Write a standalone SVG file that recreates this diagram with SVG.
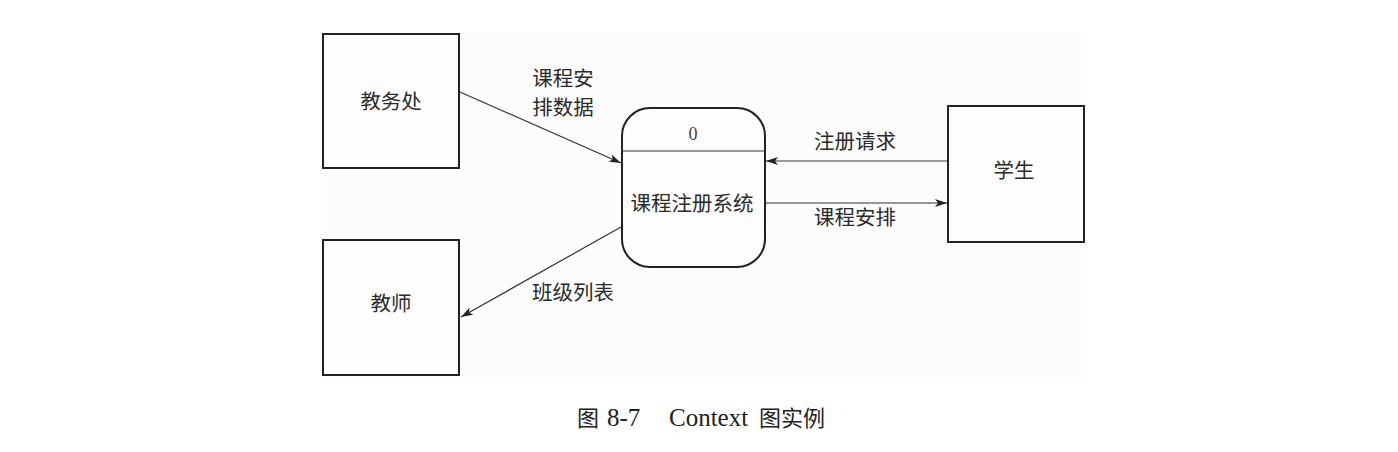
<svg xmlns="http://www.w3.org/2000/svg" width="1398" height="452" viewBox="0 0 1398 452">
<defs>
<marker id="arr" viewBox="0 0 12 8" refX="12" refY="4" markerWidth="12" markerHeight="8" markerUnits="userSpaceOnUse" orient="auto">
<path d="M0,0 L12,4 L0,8 L3,4 Z" fill="#222"/>
</marker>
</defs>
<style>
.ent{fill:#fdfdfd;stroke:#222;stroke-width:2}
.proc{fill:#fdfdfd;stroke:#222;stroke-width:2}
.flow{fill:none;stroke:#333;stroke-width:1.2;marker-end:url(#arr)}
.t{font-family:"Noto Sans CJK SC","Noto Sans",sans-serif;font-size:20.5px;fill:#2a2a2a;text-anchor:middle}
.cj{font-family:"Noto Sans CJK SC",sans-serif;font-size:22px;fill:#222}
.lat{font-family:"Liberation Serif",serif;font-size:25px;fill:#222}
</style>
<rect x="0" y="0" width="1398" height="452" fill="#ffffff"/>
<rect x="322" y="33" width="764" height="344" fill="#fcfcfc"/>
<g id="connectors">
<line class="flow" x1="460" y1="92" x2="621" y2="163"/>
<line class="flow" x1="621" y1="227" x2="461" y2="317"/>
<line class="flow" x1="948" y1="161" x2="766" y2="161"/>
<line class="flow" x1="766" y1="203" x2="947" y2="203"/>
<text class="t" x="563" y="86">课程安</text>
<text class="t" x="563" y="115">排数据</text>
<text class="t" x="573" y="300">班级列表</text>
<text class="t" x="855" y="149">注册请求</text>
<text class="t" x="855" y="225">课程安排</text>
</g>
<g id="jiaowuchu">
<rect class="ent" x="323" y="34" width="136" height="134"/>
<text class="t" x="391" y="109">教务处</text>
</g>
<g id="jiaoshi">
<rect class="ent" x="323" y="240" width="136" height="135"/>
<text class="t" x="391" y="311">教师</text>
</g>
<g id="process">
<rect class="proc" x="622" y="108" width="143" height="159" rx="28" ry="28"/>
<line x1="622" y1="151" x2="765" y2="151" stroke="#333" stroke-width="1.2"/>
<text x="693" y="140" font-family="Liberation Serif,serif" font-size="18" fill="#444" text-anchor="middle">0</text>
<text class="t" x="692" y="211">课程注册系统</text>
</g>
<g id="xuesheng">
<rect class="ent" x="948" y="106" width="136" height="136"/>
<text class="t" x="1014" y="178">学生</text>
</g>
<text y="426"><tspan class="cj" x="577">图</tspan><tspan class="lat" x="607">8-7</tspan><tspan class="lat" x="669">Context</tspan><tspan class="cj" x="759">图实例</tspan></text>
</svg>
